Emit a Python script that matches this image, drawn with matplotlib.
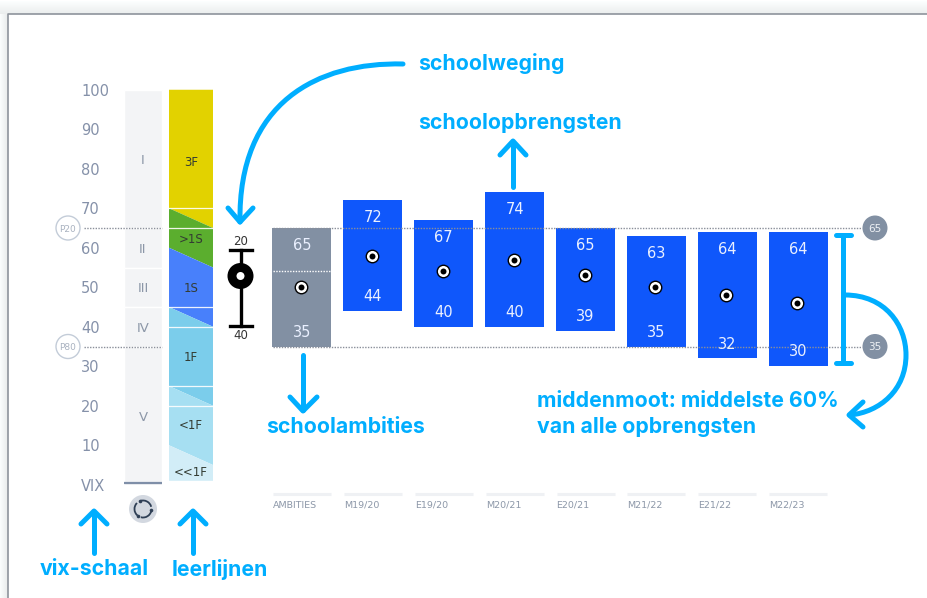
import numpy as np
import matplotlib
matplotlib.use('Agg')
import matplotlib.pyplot as plt
from matplotlib.patches import Circle, Arc, PathPatch
from matplotlib.path import Path

# ---------- data ----------
categories = ['AMBITIES', 'M19/20', 'E19/20', 'M20/21', 'E20/21', 'M21/22', 'E21/22', 'M22/23']
bar_top = [65, 72, 67, 74, 65, 63, 64, 64]
bar_bottom = [35, 44, 40, 40, 39, 35, 32, 30]
bar_dot = [50, 58, 54, 57, 53, 50, 48, 46]

vix_ticks = [100, 90, 80, 70, 60, 50, 40, 30, 20, 10]
vix_names = ['I', 'II', 'III', 'IV', 'V']
vix_upper = [100, 65, 55, 45, 35]
vix_lower = [65, 55, 45, 35, 0]
vix_name_at = [82.5, 60, 50, 40, 17.5]

line_names = ['3F', '>1S', '1S', '1F', '<1F', '<<1F']
line_left = [100, 70, 60, 45, 25, 10, 1]
line_right = [100, 65, 55, 40, 20, 5, 1]
line_name_at = [82, 62.5, 50, 32.5, 15.5, 3.5]
line_colors = ['#e2d200', '#5bae2e', '#4880fb', '#7bcdeb', '#a6dff2', '#d2edf7']
line_rules = [70, 65, 45, 40, 25, 20]

CYAN = '#00aeff'
BLUE = '#0f57fb'
SLATE = '#8290a3'
TICK = '#8591a9'
DOTS = (0, (1, 1))

# ---------- axes: one in vix score, one in pixels, same place ----------
W, H = 928, 598
fig = plt.figure(figsize=(W / 100, H / 100), dpi=100)
px = fig.add_axes([0, 0, 1, 1])
px.set_xlim(0, W)
px.set_ylim(H, 0)
px.axis('off')
ax = fig.add_axes([0, 0, 1, 1], sharex=px)
ax.patch.set_alpha(0)
ax.set_ylim(65 - (H - 228) / 3.95, 65 + 228 / 3.95)
ax.axis('off')
over = fig.add_axes([0, 0, 1, 1], sharex=px)
over.patch.set_alpha(0)
over.set_ylim(H, 0)
over.axis('off')

# ---------- page edge ----------
for i in range(13):
    shade = 0.93 + 0.07 * i / 13
    px.axhspan(13 - i, 14 - i, color=(shade - 0.01, shade, shade), lw=0)
for i in range(8):
    shade = 0.92 + 0.08 * i / 8
    px.fill_between([7 - i, 8 - i], 14, H, color=(shade - 0.01, shade, shade), lw=0)
px.plot([8, 8, W], [H, 14, 14], color='#8e949c', lw=1.2)

# ---------- vix scale ----------
for name, hi, lo, at in zip(vix_names, vix_upper, vix_lower, vix_name_at):
    ax.bar(143, hi - lo, bottom=lo, width=38, color='#f3f4f6', edgecolor='white', lw=1)
    ax.text(143, at, name, ha='center', va='center_baseline', fontsize=9.5, color='#8c97a8')
for v in vix_ticks:
    ax.text(81, v, str(v), ha='left', va='center_baseline', fontsize=10.5, color=TICK)
ax.text(81, 0, 'VIX', ha='left', va='center_baseline', fontsize=10.5, color=TICK)
over.plot([124, 162], [483, 483], color='#7f8fa8', lw=1.6, solid_capstyle='butt')

# ---------- leerlijnen ----------
col = [169, 213]
for i, name in enumerate(line_names):
    ax.fill([col[0], col[1], col[1], col[0]],
            [line_left[i], line_right[i], line_right[i + 1], line_left[i + 1]],
            color=line_colors[i], lw=0)
    ax.text(191, line_name_at[i], name, ha='center', va='center_baseline', fontsize=8.5, color='#333c33')
for v in line_rules:
    ax.plot(col, [v, v], color='white', lw=0.9, alpha=0.9)

# ---------- bars ----------
bar_x = [302 + 70.9 * i for i in range(len(categories))]
colors = [SLATE] + [BLUE] * (len(categories) - 1)
ax.bar(bar_x, np.array(bar_top) - np.array(bar_bottom), bottom=bar_bottom, width=59,
       color=colors, lw=0, zorder=2)
ax.plot([273, 331], [54, 54], color='white', ls=DOTS, lw=1, zorder=3)

# reference lines
for v in (65, 35):
    ax.plot([84, 162], [v, v], color='#8a8f9a', ls=DOTS, lw=1, zorder=4)
    ax.plot([273, 862], [v, v], color='#8a8f9a', ls=DOTS, lw=1, zorder=4)

for x, t, b, d in zip(bar_x, bar_top, bar_bottom, bar_dot):
    ax.text(x, t - 4, str(t), ha='center', va='center_baseline', fontsize=10.5, color='#eaf0ff', zorder=5)
    ax.text(x, b + 4, str(b), ha='center', va='center_baseline', fontsize=10.5, color='#eaf0ff', zorder=5)
    ax.plot(x - 1, d, 'o', ms=9, mfc='white', mec='black', mew=1, zorder=5)
    ax.plot(x - 1, d, 'o', ms=4.3, color='black', mew=0, zorder=6)

# percentile and value badges
for y, name in ((228, 'P20'), (346.5, 'P80')):
    over.add_patch(Circle((68, y), 12, fc='white', ec='#c3ccd8', lw=1))
    over.text(68, y, name, ha='center', va='center_baseline', fontsize=6.5, color='#a9b2c0')
for y, name in ((228, '65'), (346.5, '35')):
    over.add_patch(Circle((875, y), 12.5, fc=SLATE, ec='none'))
    over.text(875, y, name, ha='center', va='center_baseline', fontsize=7.5, color='#eef1f5')

# x labels
for x, name in zip(bar_x, categories):
    px.plot([x - 29, x + 29], [493.5, 493.5], color='#eff1f4', lw=2.2, solid_capstyle='butt')
    px.text(x - 29, 505, name, ha='left', va='center', fontsize=6.8, color='#8c97a8')

# ---------- school weight marker ----------
over.plot([241, 241], [250, 326], color='black', lw=2.4)
over.plot([230, 252], [250, 250], color='black', lw=2.4)
over.plot([230, 252], [326, 326], color='black', lw=2.4)
over.add_patch(Circle((240.5, 276), 13, fc='black', ec='none', zorder=3))
over.add_patch(Circle((240.5, 276), 4, fc='white', ec='none', zorder=4))
over.text(241, 240, '20', ha='center', va='center_baseline', fontsize=8.5, color='#333333')
over.text(241, 334, '40', ha='center', va='center_baseline', fontsize=8.5, color='#333333')

# ---------- refresh icon ----------
over.add_patch(Circle((143, 509), 14, fc='#d3d8e0', ec='none'))
for start in (10, 130, 250):
    over.add_patch(Arc((143, 509), 17, 17, theta1=start, theta2=start + 95, color='#2f3f55', lw=1.3))
    tip = np.radians(start)
    over.plot(143 + 8.5 * np.cos(tip), 509 + 8.5 * np.sin(tip), marker='o', ms=2.6, color='#2f3f55', mew=0)

# ---------- callouts ----------
def stroke(xs, ys, lw=3.6):
    over.plot(xs, ys, color=CYAN, lw=lw, solid_capstyle='round', solid_joinstyle='round', zorder=8)

def curve(verts, lw=3.6):
    codes = [Path.MOVETO] + [Path.CURVE4] * (len(verts) - 1)
    over.add_patch(PathPatch(Path(verts, codes), fc='none', ec=CYAN, lw=lw, capstyle='round', zorder=8))

curve([(403, 64), (318, 62), (238, 102), (240, 222)])
stroke([228, 240, 253], [208, 222, 208])

stroke([513, 513], [187, 142])
stroke([500, 513, 526], [155, 141, 155])

stroke([303, 303], [355, 410])
stroke([290, 303, 317], [397, 411, 397])

stroke([94, 94], [553, 512])
stroke([81, 94, 107], [524, 511, 524])
stroke([193, 193], [553, 512])
stroke([180, 193, 206], [524, 511, 524])

stroke([843, 843], [235, 363])
stroke([836, 851], [235, 235])
stroke([836, 851], [363, 363])
curve([(845, 295), (885, 295), (906, 325), (906, 355), (906, 390), (880, 412), (850, 415)])
stroke([863, 849, 863], [402, 415, 427])

notes = [('schoolweging', 418, 64), ('schoolopbrengsten', 418, 123), ('schoolambities', 266, 427),
         ('middenmoot: middelste 60%', 537, 401), ('van alle opbrengsten', 537, 427),
         ('vix-schaal', 40, 569), ('leerlijnen', 172, 569)]
for name, x, y in notes:
    over.text(x, y, name, ha='left', va='center', fontsize=15.3, fontweight='bold',
              family='Inter', color=CYAN, zorder=9)

fig.savefig('out.png', dpi=100)
